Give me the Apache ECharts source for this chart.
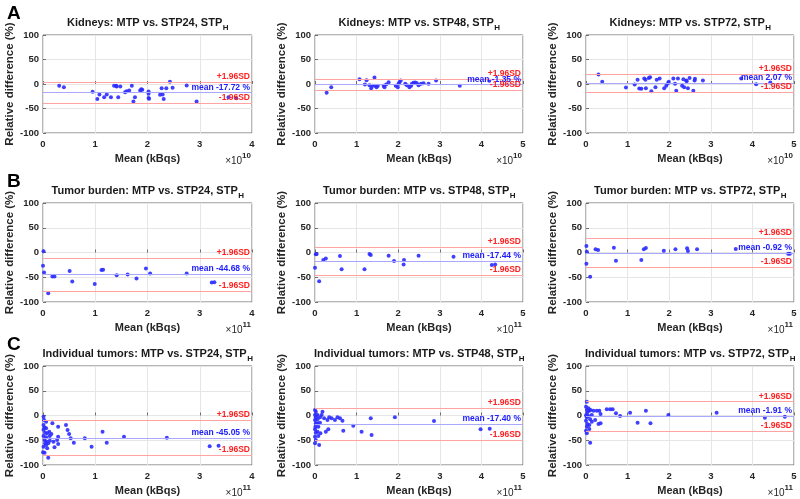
<!DOCTYPE html>
<html><head><meta charset="utf-8">
<script src="https://cdn.jsdelivr.net/npm/echarts@6/dist/echarts.min.js"></script>
<style>html,body{margin:0;padding:0;background:#fff}#c{width:800px;height:499px}</style>
</head><body><div id="c"></div>
<script>
// ---------- data ----------
const titles = [
  'Kidneys: MTP vs. STP24, STP', 'Kidneys: MTP vs. STP48, STP', 'Kidneys: MTP vs. STP72, STP',
  'Tumor burden: MTP vs. STP24, STP', 'Tumor burden: MTP vs. STP48, STP', 'Tumor burden: MTP vs. STP72, STP',
  'Individual tumors: MTP vs. STP24, STP', 'Individual tumors: MTP vs. STP48, STP', 'Individual tumors: MTP vs. STP72, STP'
];
const titleSub = 'H';
const panelLetters = ['A', 'B', 'C'];
const xMax = [4, 5, 5, 4, 5, 5, 4, 5, 5];
const xExp = ['10', '10', '10', '11', '11', '11', '11', '11', '11'];
const yTicks = [-100, -50, 0, 50, 100];
const means   = [-17.72, -1.35, 2.07, -44.68, -17.44, -0.92, -45.05, -17.40, -1.91];
const upperSD = [3.8, 10.2, 20.6, -10.8, 11.1, 28.6, -10.0, 14.6, 27.8];
const lowerSD = [-39.2, -12.9, -16.4, -78.6, -45.9, -30.4, -80.0, -49.4, -31.6];

// x in units of 10^exp kBqs, y in %
const kidneys24 = [[0.31,-3.7],[0.40,-6.4],[0.95,-15.9],[1.04,-30.8],[1.08,-21.4],[1.17,-26.8],[1.22,-21.4],[1.30,-26.8],[1.36,-3.7],[1.40,-3.7],[1.41,-5],[1.44,-26.8],[1.48,-5],[1.57,-16.6],[1.60,-14.6],[1.65,-13.2],[1.70,-3.7],[1.73,-35.6],[1.76,-26.8],[1.86,-13.2],[1.88,-10.5],[1.90,-11.9],[2.02,-15.3],[2.02,-20],[2.02,-28.8],[2.03,-30.2],[2.24,-22],[2.27,-8.5],[2.29,-21.4],[2.31,-30.8],[2.36,-8.5],[2.43,4.4],[2.48,-7.8],[2.75,-3],[2.94,-35.6],[3.55,-27],[3.70,-29]];
const kidneys48 = [[0.28,-18],[0.39,-6.4],[1.07,9.8],[1.20,-1],[1.24,7.8],[1.31,-2.4],[1.35,-8.5],[1.38,-3.7],[1.43,13.2],[1.44,-3.7],[1.48,-6.4],[1.51,-3.7],[1.65,-3.7],[1.67,-6.4],[1.71,-1],[1.77,3.7],[1.94,-3.7],[1.99,-6.4],[2.01,0.3],[2.03,3.7],[2.06,7.1],[2.17,0.3],[2.21,-2.4],[2.27,-6.4],[2.31,-3.7],[2.33,0.3],[2.37,2.4],[2.41,3],[2.45,1.7],[2.49,-2.4],[2.55,0.3],[2.61,1.7],[2.73,0.3],[2.91,7.1],[3.48,-3.7],[4.19,6.4]];
const kidneys72 = [[0.30,19.3],[0.39,4.4],[0.96,-7.1],[1.17,-1],[1.24,8.5],[1.28,-9.2],[1.33,-9.8],[1.40,11.2],[1.43,8.5],[1.44,-8.5],[1.51,12.5],[1.54,13.9],[1.57,-14.6],[1.67,-6.4],[1.70,8.5],[1.77,11.2],[1.88,-8.5],[1.93,-3.7],[1.97,1.7],[1.99,4.4],[2.10,11.2],[2.14,0.3],[2.17,-13.9],[2.21,11.2],[2.31,-3.7],[2.34,9.8],[2.36,-6.4],[2.41,7.1],[2.42,5.8],[2.45,-8.5],[2.49,12.5],[2.58,-13.9],[2.61,7.1],[2.62,10.5],[2.81,7.1],[3.73,11.2],[4.09,-0.3],[4.43,3.1]];
const burden24 = [[0.01,2.4],[0.00,-26.8],[0.02,-40.3],[0.18,-48.5],[0.22,-48.5],[0.10,-82.4],[0.51,-37.6],[0.56,-58.6],[0.99,-63.4],[1.12,-35.6],[1.15,-34.9],[1.41,-45.8],[1.62,-44.4],[1.79,-52.5],[1.97,-32.2],[2.05,-42.4],[2.75,-42.4],[3.23,-60.7],[3.28,-60]];
const burden48 = [[0.00,-30.8],[0.02,-3.7],[0.04,-3],[0.10,-58],[0.20,-15.3],[0.26,-11.9],[0.60,-7.1],[0.64,-33.6],[1.19,-33.6],[1.31,-3],[1.34,-5.1],[1.77,-6.4],[1.90,-17.3],[2.13,-24.1],[2.14,-15.3],[2.49,-6.4],[3.33,-8.5],[4.25,-25.4],[4.33,-24.1]];
const burden72 = [[0.01,13.2],[0.02,1.7],[0.01,-22.7],[0.10,-49.2],[0.23,6.4],[0.29,5.1],[0.67,9.8],[0.72,-16.6],[1.33,-15.3],[1.39,6.4],[1.44,9.2],[1.87,3.7],[2.15,6.4],[2.43,8.5],[2.45,3.1],[2.67,6.4],[3.60,7.1],[4.86,-2.4],[4.90,-2.4]];
const tumors24 = [[0.01,-2.4],[0.02,-9],[0.01,-19],[0.03,-24],[0.01,-29],[0.04,-34.7],[0.01,-41.4],[0.03,-49.5],[0.04,-56.2],[0.01,-63],[0.00,-74.4],[0.03,-75],[0.06,-12.5],[0.06,-25.9],[0.08,-36],[0.06,-44.1],[0.07,-52.9],[0.06,-59.6],[0.08,-66.3],[0.10,-85.2],[0.12,-32.7],[0.13,-41.4],[0.13,-50.8],[0.10,-56.2],[0.16,-37.4],[0.18,-15.8],[0.20,-52.9],[0.22,-64.3],[0.27,-49.5],[0.29,-22.6],[0.29,-42.8],[0.29,-57.6],[0.44,-19.2],[0.47,-29.3],[0.50,-37.4],[0.53,-46.1],[0.59,-54.9],[0.80,-46.1],[0.93,-63],[1.14,-32.7],[1.22,-54.9],[1.55,-42.8],[2.37,-44.8],[3.19,-62.3],[3.36,-61]];
const tumors48 = [[0.00,11.1],[0.02,7.7],[0.00,1],[0.02,-3.7],[0.00,-9.1],[0.02,-15.8],[0.01,-22.6],[0.00,-28],[0.02,-34.7],[0.00,-42.8],[0.02,-49.5],[0.00,-56.2],[0.06,1],[0.06,-7.7],[0.06,-15.8],[0.08,-22.6],[0.06,-32.7],[0.08,-41.4],[0.10,-59.6],[0.12,-3.7],[0.12,-14.5],[0.13,-36],[0.16,1],[0.18,7.7],[0.22,-5.7],[0.26,-32.7],[0.30,-9.1],[0.32,-28],[0.34,-3.7],[0.40,-5.7],[0.48,-9.1],[0.54,-3.7],[0.60,-5.7],[0.66,-10.4],[0.68,-30.6],[0.92,-20.5],[1.12,-32.7],[1.34,-5.7],[1.36,-39.4],[1.92,-3.7],[2.86,-11.1],[3.98,-28],[4.20,-26.6]];
const tumors72 = [[0.02,28],[0.00,17.8],[0.02,11.1],[0.03,5.7],[0.00,0.3],[0.02,-3.7],[0.00,-10.4],[0.03,-17.2],[0.02,-22.6],[0.00,-30.6],[0.02,-36],[0.06,14.5],[0.08,9.8],[0.06,-1],[0.10,-7.7],[0.08,-19.2],[0.08,-27.3],[0.11,11.1],[0.14,1],[0.14,-12.5],[0.10,-54.9],[0.18,9.8],[0.22,-9.1],[0.26,9.8],[0.30,-17.2],[0.32,9.8],[0.35,3],[0.35,-15.8],[0.50,12.5],[0.58,12.5],[0.64,12.5],[0.72,4.4],[0.82,-1],[1.06,5.7],[1.24,-14.5],[1.44,9.8],[1.55,-15.8],[1.98,1],[3.14,5.7],[4.30,-4.4],[4.78,-2.4]];
const panelData = [kidneys24, kidneys48, kidneys72, burden24, burden48, burden72, tumors24, tumors48, tumors72];

// ---------- layout ----------
const FONT = '"Liberation Sans", Arial, sans-serif';
const colLeft = [43, 315, 586];
const colWidth = [209, 208, 208];
const rowTop = [35, 203, 366];
const rowHeight = [98, 99, 99];

const ctx = document.createElement('canvas').getContext('2d');
function textW(str, font) { ctx.font = font; return ctx.measureText(str).width; }

const grids = [], xAxes = [], yAxes = [], series = [], graphics = [];
const TFONT_MAIN = 'bold 11px ' + FONT, TFONT_SUB = 'bold 8px ' + FONT;

for (let i = 0; i < 9; i++) {
  const r = Math.floor(i / 3), c = i % 3;
  const L = colLeft[c], T = rowTop[r], W = colWidth[c], H = rowHeight[r];
  grids.push({ left: L, top: T, width: W, height: H, show: true, borderColor: '#6e6e6e', borderWidth: 1, backgroundColor: '#fff' });
  xAxes.push({
    gridIndex: i, type: 'value', min: 0, max: xMax[i], interval: 1,
    name: 'Mean (kBqs)', nameLocation: 'middle', nameGap: 20,
    nameTextStyle: { fontFamily: FONT, fontWeight: 'bold', fontSize: 11, color: '#262626' },
    axisLine: { show: false }, axisTick: { show: true, inside: true, length: 3, lineStyle: { color: '#6e6e6e' } },
    axisLabel: { fontFamily: FONT, fontWeight: 'bold', fontSize: 9.5, color: '#262626', margin: 6 },
    splitLine: { show: true, lineStyle: { color: '#e6e6e6', width: 1 } }
  });
  yAxes.push({
    gridIndex: i, type: 'value', min: yTicks[0], max: yTicks[yTicks.length - 1], interval: 50,
    name: 'Relative difference (%)', nameLocation: 'middle', nameGap: 17,
    nameTextStyle: { fontFamily: FONT, fontWeight: 'bold', fontSize: 11.5, color: '#262626' },
    axisLine: { show: false }, axisTick: { show: true, inside: true, length: 3, lineStyle: { color: '#6e6e6e' } },
    axisLabel: { fontFamily: FONT, fontWeight: 'bold', fontSize: 9.5, color: '#262626', margin: 4 },
    splitLine: { show: true, lineStyle: { color: '#e6e6e6', width: 1 } }
  });
  const lblBase = { fontFamily: FONT, fontWeight: 'bold', fontSize: 8.5, distance: [2, 1], position: 'insideEndTop' };
  series.push({
    type: 'scatter', xAxisIndex: i, yAxisIndex: i, data: panelData[i],
    symbol: 'circle', symbolSize: 4, itemStyle: { color: '#2b2bff', opacity: 0.9 }, z: 3,
    animation: false,
    markLine: {
      silent: true, symbol: ['none', 'none'], animation: false,
      data: [
        { yAxis: upperSD[i], lineStyle: { color: '#ffa3a3', width: 1.2, type: 'solid' },
          label: Object.assign({ formatter: '+1.96SD', color: '#ff2020' }, lblBase) },
        { yAxis: means[i], lineStyle: { color: '#a8a8ff', width: 1.2, type: 'solid' },
          label: Object.assign({ formatter: 'mean ' + means[i].toFixed(2) + ' %', color: '#2020ff' }, lblBase) },
        { yAxis: lowerSD[i], lineStyle: { color: '#ffa3a3', width: 1.2, type: 'solid' },
          label: Object.assign({ formatter: '-1.96SD', color: '#ff2020' }, lblBase) }
      ]
    }
  });
  // title with subscript
  const wMain = textW(titles[i], TFONT_MAIN), wSub = textW(titleSub, TFONT_SUB);
  const cx = L + W / 2, x0 = cx - (wMain + wSub) / 2, ty = T - 12;
  graphics.push({ type: 'text', x: x0, y: ty, style: { text: titles[i], font: TFONT_MAIN, fill: '#1a1a1a', align: 'left', verticalAlign: 'middle' } });
  graphics.push({ type: 'text', x: x0 + wMain + 0.5, y: ty + 5, style: { text: titleSub, font: TFONT_SUB, fill: '#1a1a1a', align: 'left', verticalAlign: 'middle' } });
  // exponent label
  const EF = '10px ' + FONT, ESF = 'bold 8px ' + FONT;
  const wExp = textW(xExp[i], ESF);
  const ex = L + W - 1, ey = T + H + 28;
  graphics.push({ type: 'text', x: ex - wExp, y: ey - 5, style: { text: xExp[i], font: ESF, fill: '#262626', align: 'left', verticalAlign: 'middle' } });
  graphics.push({ type: 'text', x: ex - wExp, y: ey, style: { text: '\u00d710', font: EF, fill: '#262626', align: 'right', verticalAlign: 'middle' } });
}
// panel letters
for (let r = 0; r < 3; r++) {
  graphics.push({ type: 'text', x: 7, y: rowTop[r] - 21, style: { text: panelLetters[r], font: 'bold 19px ' + FONT, fill: '#000', align: 'left', verticalAlign: 'middle' } });
}

const chart = echarts.init(document.getElementById('c'), null, { renderer: 'canvas' });
chart.setOption({
  animation: false, backgroundColor: '#fff',
  grid: grids, xAxis: xAxes, yAxis: yAxes, series: series, graphic: graphics
});
</script></body></html>
